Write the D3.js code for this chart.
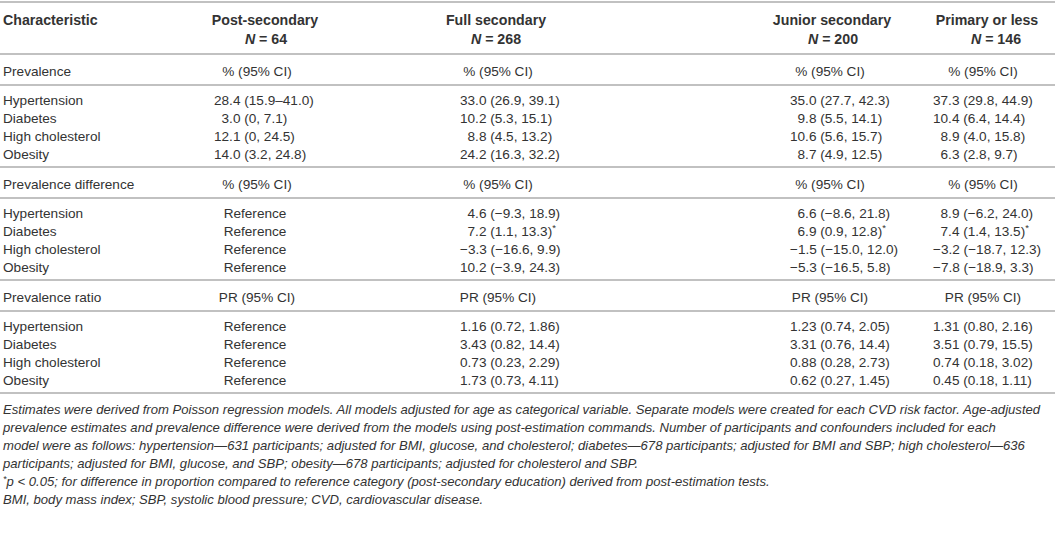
<!DOCTYPE html>
<html><head><meta charset="utf-8">
<script src="https://cdn.jsdelivr.net/npm/d3@7"></script>
<style>body{margin:0;background:#fff}svg{display:block}</style>
</head><body><svg id="t" width="1055" height="535"></svg>
<script>
// ---------- data ----------
const categories = ["Post-secondary", "Full secondary", "Junior secondary", "Primary or less"];
const groupN = [64, 268, 200, 146];
const riskFactors = ["Hypertension", "Diabetes", "High cholesterol", "Obesity"];
const sections = ["Prevalence", "Prevalence difference", "Prevalence ratio"];
const sectionUnits = ["% (95% CI)", "% (95% CI)", "PR (95% CI)"];
const referenceLabel = "Reference";
// [estimate, lower, upper] by category, then risk factor
const prevalence = [
  [[28.4, 15.9, 41.0], [3.0, 0, 7.1], [12.1, 0, 24.5], [14.0, 3.2, 24.8]],
  [[33.0, 26.9, 39.1], [10.2, 5.3, 15.1], [8.8, 4.5, 13.2], [24.2, 16.3, 32.2]],
  [[35.0, 27.7, 42.3], [9.8, 5.5, 14.1], [10.6, 5.6, 15.7], [8.7, 4.9, 12.5]],
  [[37.3, 29.8, 44.9], [10.4, 6.4, 14.4], [8.9, 4.0, 15.8], [6.3, 2.8, 9.7]]
];
const prevalenceDifference = [
  null,
  [[4.6, -9.3, 18.9], [7.2, 1.1, 13.3], [-3.3, -16.6, 9.9], [10.2, -3.9, 24.3]],
  [[6.6, -8.6, 21.8], [6.9, 0.9, 12.8], [-1.5, -15.0, 12.0], [-5.3, -16.5, 5.8]],
  [[8.9, -6.2, 24.0], [7.4, 1.4, 13.5], [-3.2, -18.7, 12.3], [-7.8, -18.9, 3.3]]
];
const differenceSignificant = [
  null,
  [false, true, false, false],
  [false, true, false, false],
  [false, true, false, false]
];
const prevalenceRatio = [
  null,
  [[1.16, 0.72, 1.86], [3.43, 0.82, 14.4], [0.73, 0.23, 2.29], [1.73, 0.73, 4.11]],
  [[1.23, 0.74, 2.05], [3.31, 0.76, 14.4], [0.88, 0.28, 2.73], [0.62, 0.27, 1.45]],
  [[1.31, 0.80, 2.16], [3.51, 0.79, 15.5], [0.74, 0.18, 3.02], [0.45, 0.18, 1.11]]
];
const footnotes = [
  "Estimates were derived from Poisson regression models. All models adjusted for age as categorical variable. Separate models were created for each CVD risk factor. Age-adjusted",
  "prevalence estimates and prevalence difference were derived from the models using post-estimation commands. Number of participants and confounders included for each",
  "model were as follows: hypertension\u2014631 participants; adjusted for BMI, glucose, and cholesterol; diabetes\u2014678 participants; adjusted for BMI and SBP; high cholesterol\u2014636",
  "participants; adjusted for BMI, glucose, and SBP; obesity\u2014678 participants; adjusted for cholesterol and SBP.",
  "*p < 0.05; for difference in proportion compared to reference category (post-secondary education) derived from post-estimation tests.",
  "BMI, body mass index; SBP, systolic blood pressure; CVD, cardiovascular disease."
];

// ---------- layout ----------
const W = 1055;
const FS = 13.6;
const FONT = "'Liberation Sans', Arial, sans-serif";
const TEXT = "#333333";
const RULE = "#adadad";
const svg = d3.select("#t").style("font-family", FONT);

const colData = d3.scaleOrdinal().domain(categories).range([214, 460, 790, 933]);
const colHead = d3.scaleOrdinal().domain(categories).range([265, 496, 832, 987]);
const colN = d3.scaleOrdinal().domain(categories).range([266, 496, 833, 996]);
const colUnit = d3.scaleOrdinal().domain(categories).range([257, 498, 830, 983]);
const refX = 255;

const sectionTop = d3.scaleLinear().domain([0, 1]).range([54, 167]);
const rowOffset = d3.scaleLinear().domain([0, 1]).range([46, 64]); // offset inside a section
const footY = d3.scaleLinear().domain([0, 1]).range([409, 427]);
const BASE = 0.35 * FS; // baseline shift for vertical centring

function hline(y) {
  svg.append("line").attr("x1", 0).attr("x2", W).attr("y1", y).attr("y2", y)
    .attr("stroke", RULE).attr("stroke-width", 1.3);
}
function txt(x, y, s, anchor, opts = {}) {
  const size = opts.size || FS;
  return svg.append("text").attr("x", x).attr("y", y + 0.35 * size)
    .attr("text-anchor", anchor || "start")
    .attr("font-size", size)
    .attr("font-weight", opts.weight || 400)
    .attr("font-style", opts.style || "normal")
    .attr("fill", TEXT).text(s);
}

const f1 = v => v === 0 ? "0" : d3.format(".1f")(v);
const f2 = v => Math.abs(v) >= 10 ? d3.format(".1f")(v) : d3.format(".2f")(v);
const digitW = FS * 0.556;

// header
hline(2);
txt(3, 20, "Characteristic", "start", { weight: 700, size: 14.2 });
categories.forEach((c, i) => {
  txt(colHead(c), 20, c, "middle", { weight: 700, size: 14.2 });
  const t = svg.append("text").attr("x", colN(c)).attr("y", 39 + 0.35 * 14.2)
    .attr("text-anchor", "middle").attr("font-size", 14.2).attr("font-weight", 700).attr("fill", TEXT);
  t.append("tspan").attr("font-style", "italic").text("N");
  t.append("tspan").text(" = " + groupN[i]);
});

const sectionData = [prevalence, prevalenceDifference, prevalenceRatio];
sections.forEach((sec, s) => {
  const top = sectionTop(s);
  hline(top);
  txt(3, top + 17, sec, "start");
  categories.forEach(c => txt(colUnit(c), top + 17, sectionUnits[s], "middle"));
  hline(top + 31);
  riskFactors.forEach((rf, r) => {
    const y = top + rowOffset(r);
    txt(3, y, rf, "start");
    categories.forEach((c, ci) => {
      const vals = sectionData[s][ci];
      if (!vals) { txt(refX, y, referenceLabel, "middle"); return; }
      const [e, lo, hi] = vals[r];
      const fmt = s === 2 ? f2 : f1;
      const sep = (s === 0 && ci === 0 && r === 0) ? "\u2013" : ", ";
      const pad = (e >= 0 && e < 10 && s !== 2) ? digitW : 0;
      const t = txt(colData(c) + pad, y, `${fmt(e)} (${fmt(lo)}${sep}${fmt(hi)})`, "start");
      if (s === 1 && differenceSignificant[ci][r]) {
        t.append("tspan").attr("font-size", FS * 0.7).attr("dy", "-0.45em").text("*");
      }
    });
  });
});
hline(sectionTop(3));

// footnotes
const FFS = 13.1;
footnotes.forEach((f, i) => {
  const t = svg.append("text").attr("x", 3).attr("y", footY(i) + 0.35 * FFS)
    .attr("font-size", FFS).attr("font-style", "italic").attr("fill", TEXT);
  if (i === 4) {
    t.append("tspan").attr("font-size", 9).attr("dy", "-4").text("*");
    t.append("tspan").attr("dy", "4").text(f.slice(1));
  } else t.text(f);
});
</script></body></html>
